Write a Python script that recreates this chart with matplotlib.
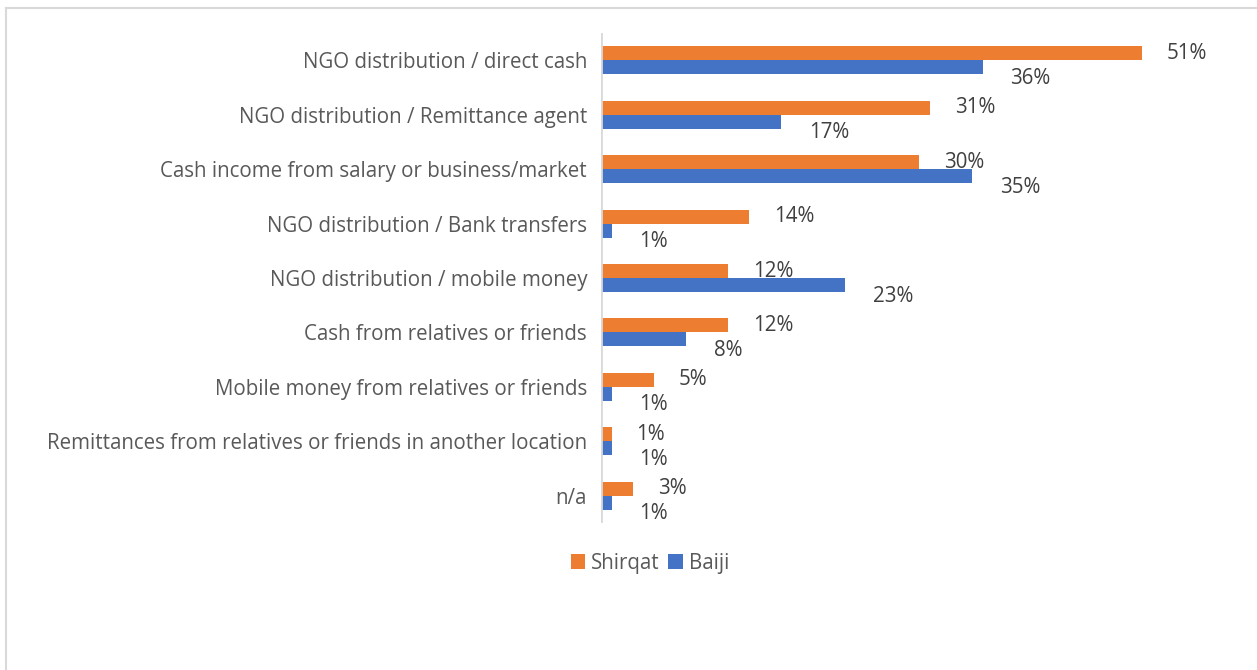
import matplotlib.pyplot as plt
from matplotlib.patches import Patch
from matplotlib.lines import Line2D
import numpy as np

plt.rcParams['font.family'] = ['Open Sans', 'DejaVu Sans']

categories = [
    "NGO distribution / direct cash",
    "NGO distribution / Remittance agent",
    "Cash income from salary or business/market",
    "NGO distribution / Bank transfers",
    "NGO distribution / mobile money",
    "Cash from relatives or friends",
    "Mobile money from relatives or friends",
    "Remittances from relatives or friends in another location",
    "n/a",
]
shirqat = [51, 31, 30, 14, 12, 12, 5, 1, 3]
baiji = [36, 17, 35, 1, 23, 8, 1, 1, 1]

ORANGE = "#ED7D31"
BLUE = "#4472C4"
GRID = "#D9D9D9"
TEXT = "#595959"
LABEL = "#404040"
FS = 14.8

W, H = 1257, 670
fig = plt.figure(figsize=(W / 100, H / 100), dpi=100)
ax = fig.add_axes([601 / W, 1 - 523 / H, (1237 - 601) / W, 490 / H])

y = np.arange(len(categories))
bh = 0.257
ax.barh(y - bh / 2, shirqat, height=bh, color=ORANGE, zorder=2)
ax.barh(y + bh / 2, baiji, height=bh, color=BLUE, zorder=2)
ax.axvline(0, color=GRID, linewidth=2, zorder=3)

ax.set_xlim(0, 60)
ax.set_ylim(len(categories) - 0.5, -0.5)
ax.set_yticks(y)
ax.set_yticklabels(categories, fontsize=FS, color=TEXT)
ax.tick_params(axis='y', length=0, pad=10)
ax.set_xticks([])
for s in ax.spines.values():
    s.set_visible(False)

# data labels, nudged right of bar end like the Excel original
for i, (s, b) in enumerate(zip(shirqat, baiji)):
    ax.annotate(f"{s}%", (s, i - bh / 2), xytext=(18, 0), textcoords='offset points',
                va='center', ha='left', fontsize=FS, color=LABEL)
    ax.annotate(f"{b}%", (b, i + bh / 2), xytext=(20, -8), textcoords='offset points',
                va='center', ha='left', fontsize=FS, color=LABEL)

handles = [Patch(facecolor=ORANGE, label="Shirqat"), Patch(facecolor=BLUE, label="Baiji")]
fig.legend(handles=handles, loc='center', bbox_to_anchor=(650 / W, 1 - 563 / H), ncol=2,
           frameon=False, fontsize=FS, handlelength=0.7, handleheight=0.7,
           handletextpad=0.3, columnspacing=0.4, labelcolor=TEXT)

# chart border (only left and top visible in the crop)
fig.add_artist(Line2D([6 / W, 6 / W], [0, 1 - 8 / H], color=GRID, linewidth=1.5, transform=fig.transFigure))
fig.add_artist(Line2D([6 / W, 1], [1 - 8 / H, 1 - 8 / H], color=GRID, linewidth=1.5, transform=fig.transFigure))

fig.savefig("out.png", dpi=100)
